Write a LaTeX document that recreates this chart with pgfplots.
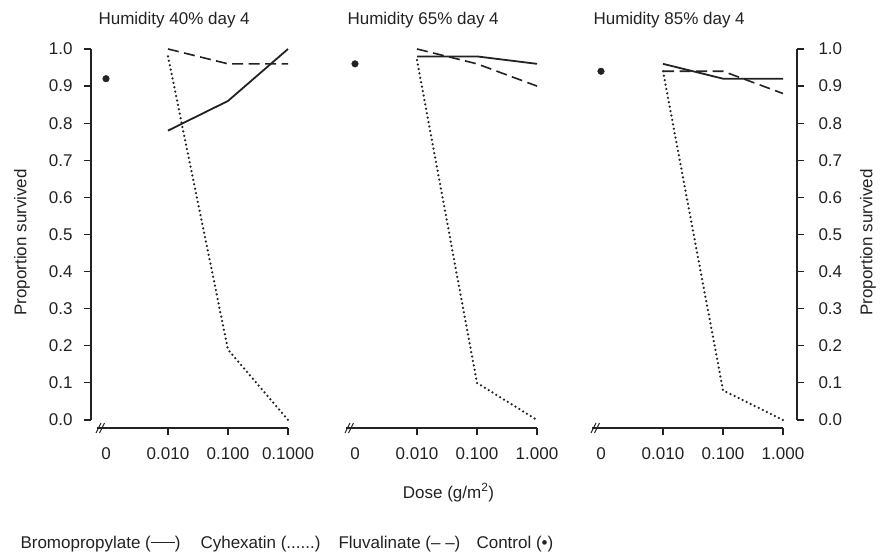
\documentclass[border=0pt]{standalone}
\usepackage{pgfplots}
\pgfplotsset{compat=1.18}
\usepackage{fontspec}
\setmainfont{Liberation Sans}
\definecolor{ink}{HTML}{222222}
\pgfplotsset{
  panel/.style={
    scale only axis, width=211pt, height=379pt,
    xmin=-15, xmax=196, ymin=-0.0216, ymax=1.0,
    axis line style={draw=none},
    clip=false,
    tick align=outside,
    major tick length=7pt,
    xtick style={draw=ink, line width=1.4pt},
    ytick style={draw=ink, line width=1.2pt},
    xtick pos=bottom,
    xtick={62,122,182},
    extra x ticks={0}, extra x tick labels={0},
    extra x tick style={xtick style={draw=none}},
    xticklabel style={font=\fontsize{17}{20}\selectfont, text=ink, yshift=-9pt},
    yticklabel style={font=\fontsize{17}{20}\selectfont, text=ink},
    ylabel style={font=\fontsize{17}{20}\selectfont, text=ink},
    ytick={0,0.1,...,1.0},
    /pgf/number format/.cd, fixed, fixed zerofill, precision=1, assume math mode=true,
  },
  bromo/.style={ink, line width=1.8pt, solid},
  cyhex/.style={ink, line width=2.5pt, line cap=round, dash pattern=on 0pt off 4.5pt},
  fluva/.style={ink, line width=1.6pt, dash pattern=on 11pt off 5.5pt},
  ctrl/.style={only marks, mark=*, mark size=3.3pt, ink, mark options={fill=ink, draw=ink}},
}
\newcommand{\spines}[1]{%
  \draw[ink, line width=1.6pt] (axis cs:-9,-0.0216) -- (axis cs:182,-0.0216);
  \draw[ink, line width=1pt, shift={(axis cs:-7.5,-0.0216)}] (-2.5pt,-5pt) -- (2.5pt,5pt);
  \draw[ink, line width=1pt, shift={(axis cs:-4,-0.0216)}] (-2.5pt,-5pt) -- (2.5pt,5pt);
  \node[anchor=base west, xshift=4pt, yshift=24pt, text=ink, font=\fontsize{17}{20}\selectfont] at (rel axis cs:0,1) {#1};
}
\begin{document}
\begin{tikzpicture}[font=\fontsize{17}{20}\selectfont]
% Panel 1
\begin{axis}[panel, at={(91pt,-428pt)}, anchor=south west,
  ytick pos=left,
  yticklabel style={xshift=-8pt},
  xticklabels={0.010,0.100,0.1000},
  ylabel={Proportion survived},
  ylabel style={at={(axis description cs:-0.327,0.49)}, anchor=center},
]
\spines{Humidity 40\% day 4}
\draw[ink, line width=1.3pt] (axis cs:-15,0) -- (axis cs:-15,1);
\addplot[bromo] coordinates {(62,0.78) (122,0.86) (182,1.00)};
\addplot[cyhex] coordinates {(62,0.98) (122,0.19) (182,0.00)};
\addplot[fluva] coordinates {(62,1.00) (122,0.96) (182,0.96)};
\addplot[ctrl] coordinates {(0,0.92)};
\end{axis}
% Panel 2
\begin{axis}[panel, at={(340pt,-428pt)}, anchor=south west,
  ytick=\empty,
  xticklabels={0.010,0.100,1.000},
]
\spines{Humidity 65\% day 4}
\addplot[bromo] coordinates {(62,0.98) (122,0.98) (182,0.96)};
\addplot[cyhex] coordinates {(62,0.97) (122,0.10) (182,0.00)};
\addplot[fluva] coordinates {(62,1.00) (122,0.96) (182,0.90)};
\addplot[ctrl] coordinates {(0,0.96)};
\node[anchor=base, yshift=-70pt, xshift=3pt, text=ink] at (rel axis cs:0.5,0) {Dose (g/m\textsuperscript{2})};
\end{axis}
% Panel 3
\begin{axis}[panel, at={(586pt,-428pt)}, anchor=south west,
  ytick pos=right,
  yticklabel style={xshift=11pt},
  xticklabels={0.010,0.100,1.000},
  ylabel={Proportion survived},
  ylabel style={at={(axis description cs:1.336,0.49)}, anchor=center},
]
\spines{Humidity 85\% day 4}
\draw[ink, line width=1.3pt] (axis cs:196,0) -- (axis cs:196,1);
\addplot[bromo] coordinates {(62,0.96) (122,0.92) (182,0.92)};
\addplot[cyhex] coordinates {(62,0.94) (122,0.08) (182,0.00)};
\addplot[fluva] coordinates {(62,0.94) (122,0.94) (182,0.88)};
\addplot[ctrl] coordinates {(0,0.94)};
\end{axis}
% Legend text
\node[anchor=base west, text=ink] at (17pt,-548pt) {Bromopropylate (\raisebox{0.3em}{\rule{24pt}{0.9pt}})};
\node[anchor=base west, text=ink] at (197pt,-548pt) {Cyhexatin (......)};
\node[anchor=base west, text=ink] at (335pt,-548pt) {Fluvalinate (– –)};
\node[anchor=base west, text=ink] at (473pt,-548pt) {Control (•)};
\pgfresetboundingbox
\useasboundingbox (0pt,0pt) rectangle (883pt,-553pt);
\end{tikzpicture}
\end{document}
